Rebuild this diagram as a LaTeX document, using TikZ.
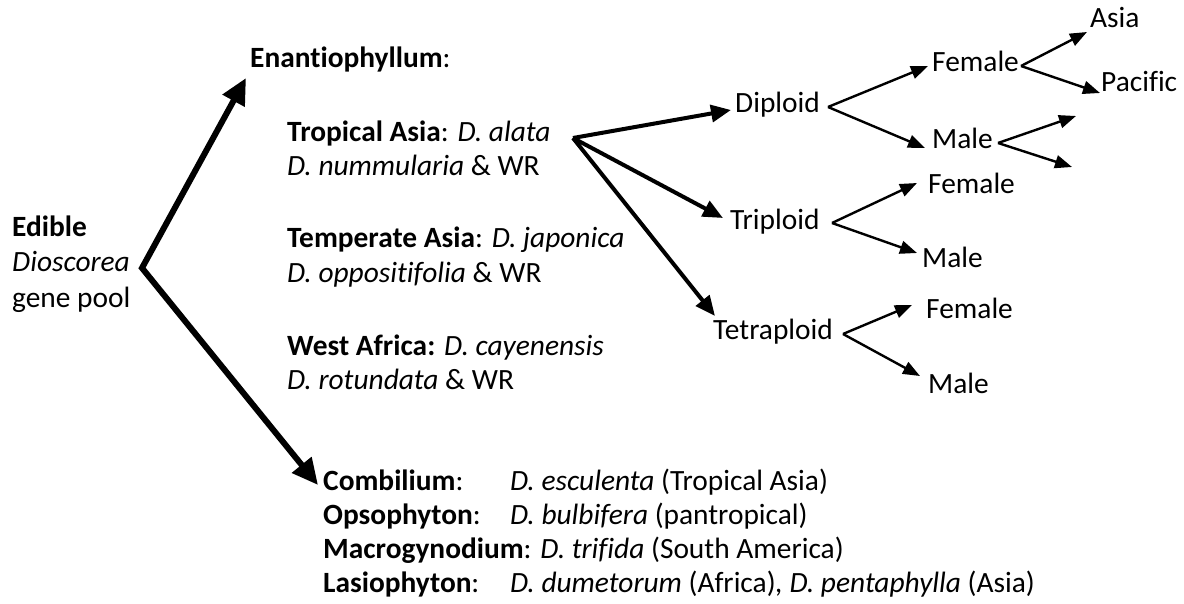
\documentclass[tikz,border=0pt]{standalone}
\usepackage{fontspec}
\setmainfont{Carlito}[Ligatures=NoCommon]
\usetikzlibrary{arrows.meta}
\begin{document}
\begin{tikzpicture}[x=1pt,y=-1pt,
  txt/.style={anchor=base west,inner sep=0pt,font=\fontsize{29.4}{35}\selectfont},
  big/.style={line width=6pt,line join=miter},
  bighead/.tip={Triangle[length=26pt,width=24pt]},
  mid/.style={line width=4pt,-{Triangle[length=20pt,width=17pt]}},
  sm/.style={line width=2.4pt,-{Triangle[length=17pt,width=13pt]}}]
\useasboundingbox (0,0) rectangle (1184,604);
% left block
\node[txt] (ed1) at (12,237) {\textbf{Edible}};
\node[txt] (ed2) at (12,272) {\textit{Dioscorea}};
\node[txt] (ed3) at (12,307) {gene pool};
% Enantiophyllum block
\node[txt] (enan) at (250,68) {\textbf{Enantiophyllum}:};
\node[txt] (ta1) at (287,142) {\textbf{Tropical Asia}: \textit{D. alata}};
\node[txt] (ta2) at (287,176) {\textit{D. nummularia} \& WR};
\node[txt] (te1) at (287,248) {\textbf{Temperate Asia}: \textit{D. japonica}};
\node[txt] (te2) at (287,283) {\textit{D. oppositifolia} \& WR};
\node[txt] (wa1) at (287,355) {\textbf{West Africa:} \textit{D. cayenensis}};
\node[txt] (wa2) at (287,389) {\textit{D. rotundata} \& WR};
% bottom block
\node[txt] (com) at (323,490) {\textbf{Combilium}:};
\node[txt] (comS) at (510,490) {\textit{D. esculenta} (Tropical Asia)};
\node[txt] (ops) at (323,524) {\textbf{Opsophyton}:};
\node[txt] (opsS) at (510,524) {\textit{D. bulbifera} (pantropical)};
\node[txt] (mac) at (323,558) {\textbf{Macrogynodium}: \textit{D. trifida} (South America)};
\node[txt] (las) at (323,592) {\textbf{Lasiophyton}:};
\node[txt] (lasS) at (510,592) {\textit{D. dumetorum} (Africa)\textit{, D. pentaphylla} (Asia)};
% ploidy
\node[txt] (dip) at (735,113) {Diploid};
\node[txt] (tri) at (730,230) {Triploid};
\node[txt] (tet) at (713,339) {Tetraploid};
\node[txt] (dF) at (932,72) {Female};
\node[txt] (dM) at (932,149) {Male};
\node[txt] (asia) at (1090,28) {Asia};
\node[txt] (pac) at (1101,92) {Pacific};
\node[txt] (tF) at (928,194) {Female};
\node[txt] (tM) at (922,268) {Male};
\node[txt] (qF) at (926,318) {Female};
\node[txt] (qM) at (928,393) {Male};
% coordinates
\coordinate (root) at (142,268);
\coordinate (enanT) at (246,78);
\coordinate (subT) at (318,485);
\coordinate (taS) at (573,138);
\coordinate (dipT) at (731,110);
\coordinate (triT) at (723,218);
\coordinate (tetT) at (715,316);
\coordinate (dipS) at (828,107);
\coordinate (dFT) at (928,66);
\coordinate (dMT) at (925,148);
\coordinate (dFS) at (1021,66);
\coordinate (asiaT) at (1087,32);
\coordinate (pacT) at (1100,93);
\coordinate (dMS) at (998,143);
\coordinate (m1T) at (1076,116);
\coordinate (m2T) at (1072,167);
\coordinate (triS) at (832,223);
\coordinate (tFT) at (917,183);
\coordinate (tMT) at (917,253);
\coordinate (tetS) at (843,334);
\coordinate (qFT) at (912,305);
\coordinate (qMT) at (920,376);
% arrows
\draw[big,bighead-bighead] (enanT) -- (root) -- (subT);
\draw[mid] (taS) -- (dipT);
\draw[mid] (taS) -- (triT);
\draw[mid] (taS) -- (tetT);
\draw[sm] (dipS) -- (dFT);
\draw[sm] (dipS) -- (dMT);
\draw[sm] (dFS) -- (asiaT);
\draw[sm] (dFS) -- (pacT);
\draw[sm] (dMS) -- (m1T);
\draw[sm] (dMS) -- (m2T);
\draw[sm] (triS) -- (tFT);
\draw[sm] (triS) -- (tMT);
\draw[sm] (tetS) -- (qFT);
\draw[sm] (tetS) -- (qMT);
\end{tikzpicture}
\end{document}
